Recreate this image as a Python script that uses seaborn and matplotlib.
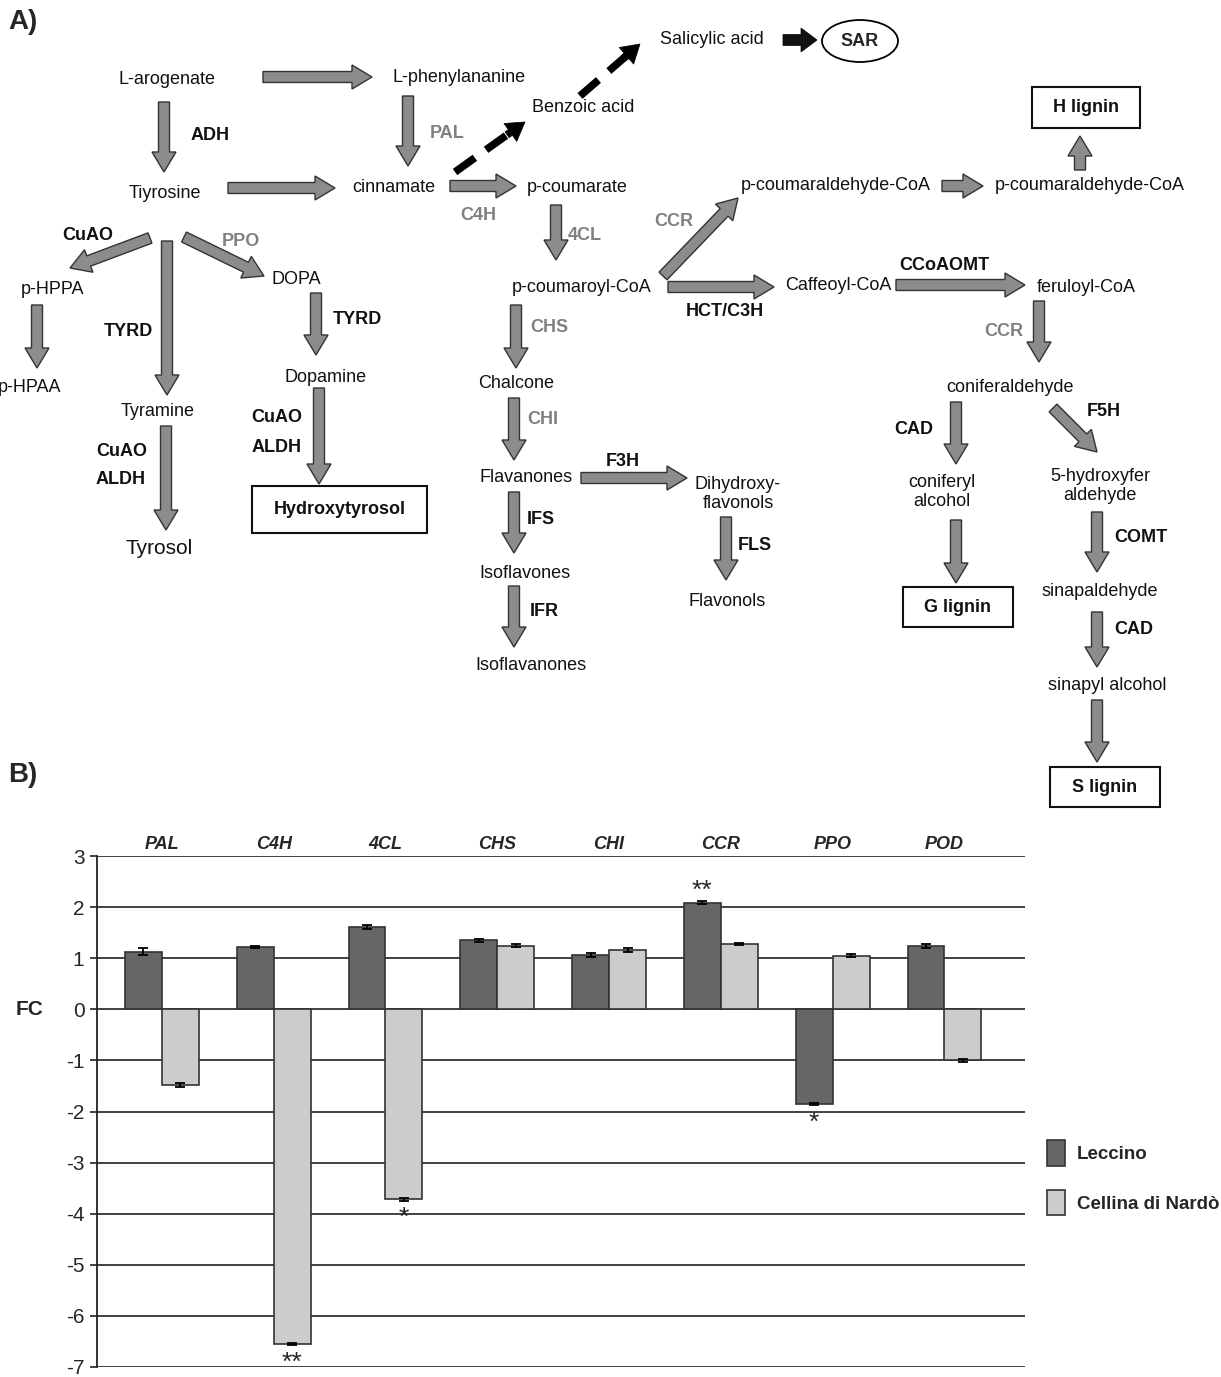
import numpy as np
import pandas as pd
import matplotlib
matplotlib.use("Agg")
import matplotlib.pyplot as plt
import seaborn as sns
from matplotlib.patches import FancyArrow, Rectangle, Ellipse

# ---- data (panel B) ----
genes = ['PAL', 'C4H', '4CL', 'CHS', 'CHI', 'CCR', 'PPO', 'POD']
cultivars = ['Leccino', 'Cellina di Nardò']
fc_leccino = [1.13, 1.21, 1.61, 1.35, 1.07, 2.09, -1.85, 1.23]
fc_cellina = [-1.49, -6.55, -3.72, 1.24, 1.16, 1.28, 1.05, -1.00]
err_leccino = [0.06, 0.02, 0.04, 0.03, 0.04, 0.02, 0.02, 0.04]
err_cellina = [0.04, 0.01, 0.03, 0.03, 0.04, 0.02, 0.03, 0.03]
signif = [('C4H', 'Cellina di Nardò', '**'), ('4CL', 'Cellina di Nardò', '*'),
          ('CCR', 'Leccino', '**'), ('PPO', 'Leccino', '*')]
yticks = [3, 2, 1, 0, -1, -2, -3, -4, -5, -6, -7]

# ---- pathway layout (panel A), pixel coordinates ----
# (text, x, y, kind) kind: n = compound, b = black enzyme, g = grey enzyme
labels = [
    ('L-arogenate', 167, 79, 'n'), ('L-phenylananine', 459, 78, 'n'),
    ('Salicylic acid', 712, 39, 'n'), ('Benzoic acid', 583, 108, 'n'),
    ('ADH', 210, 135, 'b'), ('PAL', 447, 133, 'g'),
    ('Tiyrosine', 165, 194, 'n'), ('cinnamate', 394, 187, 'n'),
    ('p-coumarate', 577, 187, 'n'), ('p-coumaraldehyde-CoA', 836, 186, 'n'),
    ('p-coumaraldehyde-CoA', 1090, 185, 'n'),
    ('C4H', 478, 216, 'g'), ('4CL', 585, 236, 'g'), ('CCR', 674, 222, 'g'),
    ('CuAO', 88, 235, 'b'), ('PPO', 241, 241, 'g'), ('DOPA', 296, 280, 'n'),
    ('p-HPPA', 53, 290, 'n'), ('p-coumaroyl-CoA', 582, 288, 'n'),
    ('Caffeoyl-CoA', 838, 285, 'n'), ('CCoAOMT', 944, 265, 'b'),
    ('feruloyl-CoA', 1086, 287, 'n'), ('HCT/C3H', 725, 312, 'b'),
    ('TYRD', 128, 332, 'b'), ('TYRD', 357, 320, 'b'), ('CHS', 549, 328, 'g'),
    ('CCR', 1004, 331, 'g'), ('p-HPAA', 30, 387, 'n'), ('Dopamine', 326, 377, 'n'),
    ('Chalcone', 516, 384, 'n'), ('coniferaldehyde', 1010, 388, 'n'),
    ('Tyramine', 158, 411, 'n'), ('CHI', 543, 420, 'g'), ('F5H', 1104, 412, 'b'),
    ('CAD', 914, 429, 'b'), ('CuAO', 122, 452, 'b'), ('ALDH', 121, 480, 'b'),
    ('CuAO', 277, 418, 'b'), ('ALDH', 277, 447, 'b'), ('Flavanones', 526, 477, 'n'),
    ('F3H', 623, 461, 'b'), ('Dihydroxy-\nflavonols', 738, 494, 'n'),
    ('coniferyl\nalcohol', 942, 492, 'n'), ('5-hydroxyfer\naldehyde', 1100, 486, 'n'),
    ('IFS', 541, 520, 'b'), ('COMT', 1141, 537, 'b'), ('FLS', 755, 545, 'b'),
    ('Isoflavones', 525, 573, 'n'), ('sinapaldehyde', 1100, 591, 'n'),
    ('Flavonols', 727, 601, 'n'), ('IFR', 544, 612, 'b'), ('CAD', 1134, 630, 'b'),
    ('Isoflavanones', 531, 665, 'n'), ('sinapyl alcohol', 1107, 685, 'n'),
]
boxes = [('Hydroxytyrosol', 252, 486, 175, 47), ('H lignin', 1032, 87, 108, 41),
         ('G lignin', 903, 587, 110, 40), ('S lignin', 1050, 767, 110, 40)]
# grey block arrows: (x0, y0, x1, y1)
arrows = [
    (263, 77, 372, 77), (164, 102, 164, 172), (408, 96, 408, 166),
    (228, 188, 335, 188), (450, 186, 516, 186), (556, 205, 556, 260),
    (663, 276, 738, 198), (942, 186, 983, 186), (1080, 170, 1080, 136),
    (668, 287, 774, 287), (896, 285, 1025, 285), (1039, 301, 1039, 362),
    (956, 402, 956, 464), (1053, 408, 1097, 452), (956, 520, 956, 583),
    (1097, 512, 1097, 572), (1097, 612, 1097, 667), (1097, 700, 1097, 762),
    (516, 305, 516, 368), (514, 398, 514, 460), (581, 478, 687, 478),
    (514, 492, 514, 553), (514, 586, 514, 647), (726, 517, 726, 580),
    (150, 238, 70, 268), (184, 237, 264, 276), (167, 241, 167, 395),
    (37, 305, 37, 368), (316, 293, 316, 355), (319, 388, 319, 484),
    (166, 426, 166, 530),
]
dashed = [(455, 172, 525, 122), (580, 96, 640, 44)]

sns.set_theme(style='white')
plt.rcParams['font.family'] = ['Liberation Sans', 'DejaVu Sans']

fig = plt.figure(figsize=(12.21, 13.77), dpi=100)

# ---------------- panel A ----------------
H = 830
axA = fig.add_axes([0, 1 - H / 1377, 1, H / 1377])
axA.set_xlim(0, 1221)
axA.set_ylim(H, 0)
axA.axis('off')

grey_fill = '#8c8c8c'
for x0, y0, x1, y1 in arrows:
    axA.add_patch(FancyArrow(x0, y0, x1 - x0, y1 - y0, width=11, head_width=24,
                             head_length=20, length_includes_head=True,
                             fc=grey_fill, ec='#333333', lw=1.0))
for x0, y0, x1, y1 in dashed:
    d = np.hypot(x1 - x0, y1 - y0)
    ux, uy = (x1 - x0) / d, (y1 - y0) / d
    axA.plot([x0, x1 - 14 * ux], [y0, y1 - 14 * uy], color='black', lw=5.5,
             dashes=(3.2, 1.8), solid_capstyle='butt')
    axA.add_patch(FancyArrow(x1 - 22 * ux, y1 - 22 * uy, 22 * ux, 22 * uy, width=7,
                             head_width=22, head_length=18, length_includes_head=True,
                             fc='black', ec='black', lw=0.5))
axA.add_patch(FancyArrow(783, 40, 34, 0, width=11, head_width=24, head_length=16,
                         length_includes_head=True, fc='#111111', ec='black', lw=0.5))
axA.add_patch(Ellipse((860, 41), 76, 42, fc='white', ec='black', lw=1.3))
axA.text(860, 41, 'SAR', ha='center', va='center', fontsize=13, fontweight='bold')

for txt, x, y, kind in labels:
    if kind == 'n':
        axA.text(x, y, txt, ha='center', va='center', fontsize=13,
                 color='#111111', linespacing=1.15)
    else:
        axA.text(x, y, txt, ha='center', va='center', fontsize=13, fontweight='bold',
                 color='#111111' if kind == 'b' else '#808080')
axA.text(159, 548, 'Tyrosol', ha='center', va='center', fontsize=15, color='#111111')
for txt, x, y, w, h in boxes:
    axA.add_patch(Rectangle((x, y), w, h, fc='white', ec='#111111', lw=1.5))
    axA.text(x + w / 2, y + h / 2, txt, ha='center', va='center', fontsize=13,
             fontweight='bold', color='#111111')

fig.text(8 / 1221, 1 - 22 / 1377, 'A)', fontsize=20, fontweight='bold', va='center')
fig.text(8 / 1221, 1 - 775 / 1377, 'B)', fontsize=20, fontweight='bold', va='center')

# ---------------- panel B ----------------
df = pd.DataFrame({
    'gene': genes * 2,
    'cultivar': [cultivars[0]] * len(genes) + [cultivars[1]] * len(genes),
    'fc': fc_leccino + fc_cellina,
})
axB = fig.add_axes([97 / 1221, 1 - 1367 / 1377, 928 / 1221, 511 / 1377])
sns.barplot(data=df, x='gene', y='fc', hue='cultivar', order=genes, hue_order=cultivars,
            palette=['#666666', '#cccccc'], width=0.66, edgecolor='#333333',
            linewidth=1.2, errorbar=None, saturation=1, ax=axB)

for cont, errs in zip(axB.containers, [err_leccino, err_cellina]):
    for bar, e in zip(cont, errs):
        xc = bar.get_x() + bar.get_width() / 2
        axB.errorbar(xc, bar.get_y() + bar.get_height(), yerr=e, fmt='none',
                     ecolor='black', elinewidth=1.3, capsize=3.5, capthick=1.3)

for gene, cult, mark in signif:
    bar = axB.containers[cultivars.index(cult)][genes.index(gene)]
    xc = bar.get_x() + bar.get_width() / 2
    val = bar.get_y() + bar.get_height()
    if val > 0:
        axB.text(xc, val + 0.0, mark, ha='center', va='bottom', fontsize=19)
    else:
        axB.text(xc, val - 0.13, mark, ha='center', va='top', fontsize=19)

axB.set_ylim(-7, 3)
axB.set_xlim(-0.58, 7.72)
axB.set_yticks(yticks)
axB.set_yticklabels([str(t) for t in yticks], fontsize=15)
axB.tick_params(axis='y', length=5, width=1.2, color='#222222', pad=4, left=True)
axB.xaxis.tick_top()
axB.tick_params(axis='x', length=0, pad=2)
axB.set_xticks(range(len(genes)))
axB.set_xticklabels(genes, fontsize=13, fontstyle='italic', fontweight='bold')
axB.set_xlabel('')
axB.set_ylabel('FC', fontsize=15, fontweight='bold', rotation=0, va='center')
axB.yaxis.set_label_coords(-0.073, 0.7)
axB.grid(axis='y', color='#333333', lw=1.3)
axB.set_axisbelow(True)
for side in ['right', 'bottom', 'top']:
    axB.spines[side].set_visible(False)
axB.spines['left'].set_color('#222222')
axB.spines['left'].set_linewidth(1.3)

handles, labs = axB.get_legend_handles_labels()
axB.legend(handles, labs, loc='center left', bbox_to_anchor=(1.005, 0.37),
           frameon=False, handlelength=1.0, handleheight=1.7, labelspacing=1.3,
           handletextpad=0.6, prop={'size': 13.5, 'weight': 'bold'})

fig.savefig('out.png', dpi=100)
